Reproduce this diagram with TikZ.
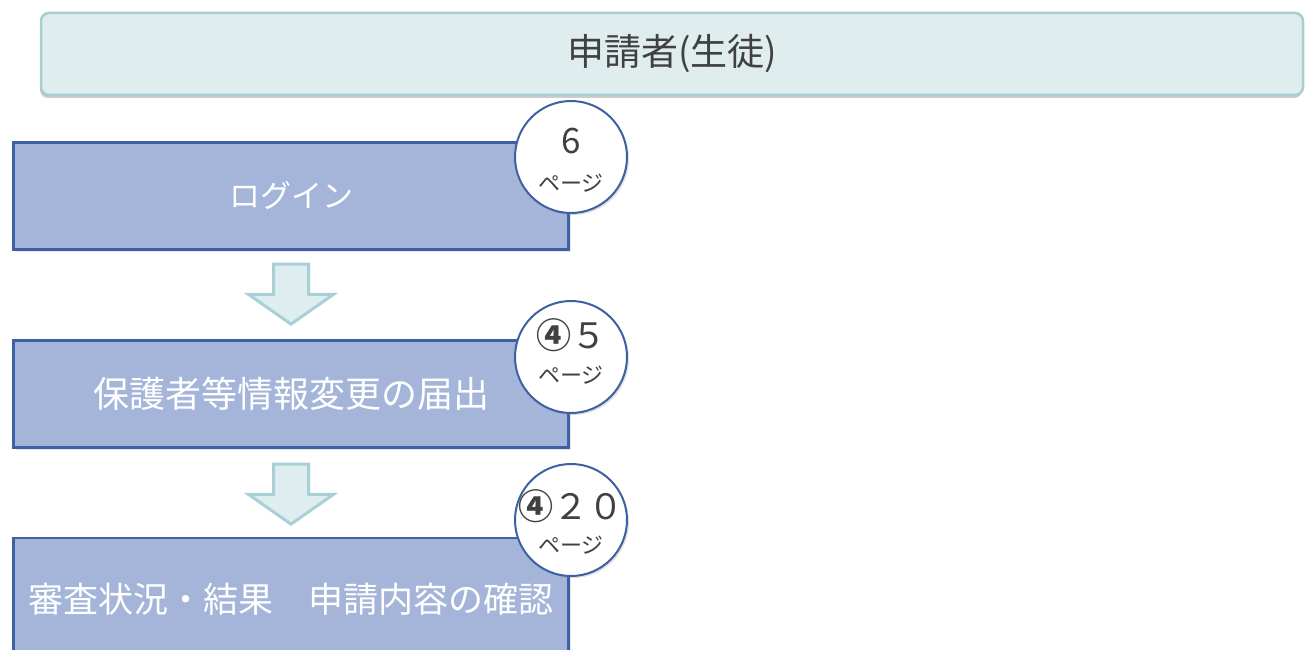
\documentclass[tikz,border=0pt]{standalone}
\usepackage{fontspec}
\setmainfont{Noto Sans CJK JP}
\usetikzlibrary{shapes.arrows,shadows}

\definecolor{headfill}{HTML}{DFEDEE}
\definecolor{headline}{HTML}{A8CDD3}
\definecolor{boxfill}{HTML}{A4B5D9}
\definecolor{boxline}{HTML}{3F60A2}
\definecolor{arrowfill}{HTML}{DEEDEF}
\definecolor{arrowline}{HTML}{A9D0D6}
\definecolor{textgray}{HTML}{404040}

\begin{document}
\begin{tikzpicture}[x=1pt,y=-1pt,
	head/.style={draw=headline,line width=2.5pt,fill=headfill,rounded corners=8pt,
		minimum width=1262pt,minimum height=82pt,text=textgray,
		font=\fontsize{37}{37}\selectfont,
		drop shadow={shadow xshift=-1pt,shadow yshift=-3pt,opacity=0.4}},
	stepbox/.style={draw=boxline,line width=2.5pt,fill=boxfill,
		minimum width=555pt,minimum height=107pt,text=white,
		drop shadow={shadow xshift=2pt,shadow yshift=-2pt,opacity=0.2}},
	pagecircle/.style={draw=boxline,line width=2pt,fill=white,circle,
		minimum size=112pt,inner sep=0pt,
		drop shadow={shadow xshift=2pt,shadow yshift=-2pt,opacity=0.25}},
	pagenum/.style={text=textgray,inner sep=0pt,font=\fontsize{35}{35}\selectfont},
	pageword/.style={text=textgray,inner sep=0pt,font=\fontsize{22}{22}\selectfont},
	blockarrow/.style={single arrow,draw=arrowline,line width=3pt,fill=arrowfill,
		rotate=-90,minimum height=60pt,minimum width=84pt,inner sep=16pt,
		single arrow head extend=25pt,single arrow tip angle=110}]
	\useasboundingbox (0,0) rectangle (1306,650);

	\node[head] (h0) at (672,54) {申請者(生徒)};

	\node[stepbox,font=\fontsize{31}{31}\selectfont] (s1) at (291,196) {ログイン};
	\node[stepbox,font=\fontsize{36}{36}\selectfont] (s2) at (291,394) {保護者等情報変更の届出};
	\node[stepbox,minimum height=122pt,font=\fontsize{35}{35}\selectfont] (s3) at (291,599) {審査状況・結果　申請内容の確認};

	\node[blockarrow] (a1) at (291,288) {};
	\node[blockarrow] (a2) at (291,488) {};

	\node[pagecircle] (c1) at (571,157) {};
	\node[pagecircle] (c2) at (571,357) {};
	\node[pagecircle] (c3) at (571,520) {};

	\node[pagenum] (n1) at ([yshift=16pt]c1.center) {6};
	\node[pageword] (w1) at ([yshift=-26pt]c1.center) {ページ};
	\node[pagenum] (n2) at ([yshift=22pt]c2.center) {\textbf{④}５};
	\node[pageword] (w2) at ([yshift=-18pt]c2.center) {ページ};
	\node[pagenum] (n3) at ([yshift=14pt]c3.center) {\textbf{④}２０};
	\node[pageword] (w3) at ([yshift=-25pt]c3.center) {ページ};
\end{tikzpicture}
\end{document}
